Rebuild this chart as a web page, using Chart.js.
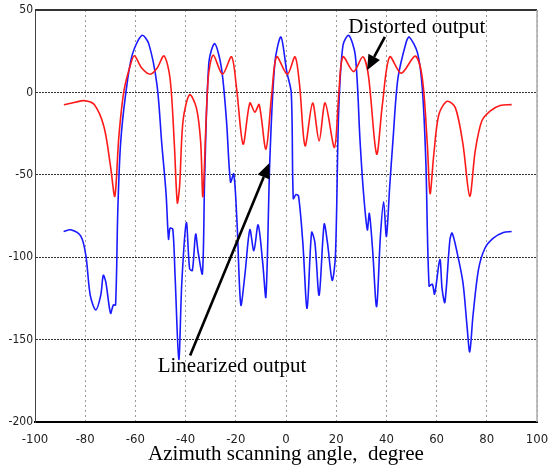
<!DOCTYPE html>
<html>
<head>
<meta charset="utf-8">
<script src="https://cdn.jsdelivr.net/npm/chart.js@4"></script>
<style>
html,body{margin:0;padding:0;background:#fff;}
#wrap{width:550px;height:470px;}
</style>
</head>
<body>
<div id="wrap"><canvas id="c" width="550" height="470"></canvas></div>
<script>
// ---- data ----
const xTicks = [-100,-80,-60,-40,-20,0,20,40,60,80,100];
const yTicks = [-200,-150,-100,-50,0,50];

const distortedX = [-88.5,-84,-80.4,-76.4,-72.5,-69.9,-68.2,-66.6,-64.6,-62,-60.4,-57.4,-54.1,-51.4,-48.6,-46.2,-44.5,-43.3,-42.4,-41,-38.4,-35.7,-34,-33.1,-31,-29,-25.3,-21.7,-19.7,-17.1,-14.4,-12.4,-10.7,-8,-5.7,-3.7,0.5,3.6,5.4,7.6,10.6,13.2,15.6,19.3,21,22.7,26.9,30.6,32.8,36.1,38.4,41.3,45.9,51.5,54.3,56.3,57.4,58.9,60.9,64.2,67.5,70.5,73.2,75.4,78,81.3,85.3,89.9];
const distortedY = [-7.5,-6,-5,-7.4,-21,-45,-63,-27,0.6,16.6,22.2,14.6,11,14.6,22.2,8.6,-31,-67,-57,-17,-1.4,-9.4,-30,-63,8.6,22.6,11,21.6,2.6,-31.4,-6.4,-12,-7.4,-34.4,-1.4,21.6,11,21.6,4.6,-32.4,-6.4,-29.4,-6.4,-33.4,-1.4,21.6,12.6,21.6,10.6,-37.4,-7.4,21.6,11.6,22,8.6,-31.4,-61.4,-37.4,-13.4,-5.4,-9.4,-31.4,-63,-35.4,-17.4,-11.4,-8,-7.4];

const linearizedX = [-88.6,-85.7,-81.7,-79.7,-78,-75.8,-73.8,-72.8,-71.8,-69.9,-68.8,-67.9,-67,-65.9,-63.9,-61.3,-57.4,-54.7,-51.4,-49.5,-47.8,-46.8,-46.2,-45.1,-44.2,-42.7,-41.5,-39.7,-38.4,-37.3,-36,-35,-33.3,-32.4,-30.7,-28.4,-25.7,-23.7,-22.1,-20.8,-19.5,-18,-16.4,-14.4,-12.8,-11.1,-9.3,-8,-6.4,-4.4,-2,0.3,2.1,2.9,4,5,6.7,8.4,10.2,11.5,13.2,15.2,16.5,18.4,19.7,21,22.7,25,27.6,29.5,30.8,32.4,33.2,34.5,36.1,37.6,38.9,40,41.3,42.6,44.6,47.9,49.1,52.4,54.3,55.7,57,58.3,59.2,61.3,62.2,63.3,65.3,66.2,68.2,70.5,72.1,73.2,74.5,76.7,79.3,82.6,86.6,89.9];
const linearizedY = [-84.4,-83.4,-87.4,-99.4,-123,-132,-123,-111,-115,-134,-129,-129,-71,-31,-1.4,22.6,34.6,29.6,4.6,-31,-61,-89,-82.4,-83,-111,-162,-115,-79,-107,-108,-86,-97,-110,-51,18.6,29.6,14.6,-17.4,-54.4,-49.4,-79.4,-129,-111,-83.4,-96,-80.4,-103,-124,-39.4,18.6,33.6,12.6,-0.4,-64.4,-62,-63,-91,-131,-85,-91,-123,-80,-91,-114,-99,-11,28.6,34.6,22.6,-29.4,-59.4,-83.4,-73.4,-95.4,-130,-87.4,-66.4,-87.4,-57.4,-29.4,8.6,30.6,33.6,24,2.6,-41.4,-117.4,-116.4,-122.4,-101.4,-119.4,-127.4,-89.4,-85.4,-97.4,-115.4,-141.4,-157.4,-135.4,-107.4,-94.4,-88.4,-85,-84.4];

// annotation labels (data coordinates)
const distortedLabel = {text:'Distorted output', x:52.1, y:36.3, from:[39.4,33.7], to:[32.3,13.5]};
const linearizedLabel = {text:'Linearized output', x:-21.5, y:-169.8, from:[-38.2,-159.7], to:[-6.6,-42.9]};
const xTitle = 'Azimuth scanning angle,  degree';

const pairs = (xs, ys) => xs.map((x,i)=>({x:x, y:ys[i]}));

const serif = '"Times New Roman", "Liberation Serif", serif';
const narrow = '"Liberation Sans Narrow", "DejaVu Sans Condensed", Arial, sans-serif';

const annot = {
  id:'annot',
  afterDraw(chart){
    const ctx = chart.ctx, xs = chart.scales.x, ys = chart.scales.y, a = chart.chartArea;
    ctx.save();
    // frame: top (dark) and right (grey)
    ctx.lineWidth = 2; ctx.strokeStyle = '#333';
    ctx.beginPath(); ctx.moveTo(a.left, a.top); ctx.lineTo(a.right, a.top); ctx.stroke();
    ctx.lineWidth = 1.5; ctx.strokeStyle = '#aaa';
    ctx.beginPath(); ctx.moveTo(a.right, a.top); ctx.lineTo(a.right, a.bottom); ctx.stroke();

    const arrow = (f, t) => {
      const x1 = xs.getPixelForValue(f[0]), y1 = ys.getPixelForValue(f[1]);
      const x2 = xs.getPixelForValue(t[0]), y2 = ys.getPixelForValue(t[1]);
      const ang = Math.atan2(y2-y1, x2-x1), L = 15, W = 6.5;
      const bx = x2 - L*Math.cos(ang), by = y2 - L*Math.sin(ang);
      ctx.strokeStyle = '#000'; ctx.fillStyle = '#000'; ctx.lineWidth = 2.6;
      ctx.beginPath(); ctx.moveTo(x1,y1); ctx.lineTo(bx,by); ctx.stroke();
      ctx.beginPath();
      ctx.moveTo(x2,y2);
      ctx.lineTo(bx + W*Math.sin(ang), by - W*Math.cos(ang));
      ctx.lineTo(bx - W*Math.sin(ang), by + W*Math.cos(ang));
      ctx.closePath(); ctx.fill();
    };
    ctx.font = '21px ' + serif;
    ctx.fillStyle = '#000'; ctx.textAlign = 'center'; ctx.textBaseline = 'alphabetic';
    [distortedLabel, linearizedLabel].forEach(l => {
      ctx.fillText(l.text, xs.getPixelForValue(l.x), ys.getPixelForValue(l.y));
      arrow(l.from, l.to);
    });
    ctx.restore();
  }
};

new Chart(document.getElementById('c'), {
  type:'line',
  data:{
    datasets:[
      {label:'Distorted output', data:pairs(distortedX, distortedY), borderColor:'#ff1a1a', borderWidth:1.6, pointRadius:0, tension:0.3, fill:false},
      {label:'Linearized output', data:pairs(linearizedX, linearizedY), borderColor:'#1a1aff', borderWidth:1.6, pointRadius:0, tension:0.3, fill:false}
    ]
  },
  options:{
    responsive:false, animation:false,
    layout:{padding:{left:0,right:13,top:10,bottom:0}},
    plugins:{legend:{display:false}, tooltip:{enabled:false}},
    scales:{
      x:{
        type:'linear', min:-100, max:100,
        afterBuildTicks(s){ s.ticks = xTicks.map(v=>({value:v})); },
        afterFit(s){ s.height = 48; s.paddingLeft = 0; s.paddingRight = 0; },
        grid:{color:'#9a9a9a', lineWidth:1, drawTicks:false},
        border:{display:true, color:'#000', width:2, dash:[2,3]},
        ticks:{padding:10, font:{family:narrow, size:13}, color:'#222', maxRotation:0, autoSkip:false},
        title:{display:true, text:xTitle, font:{family:serif, size:21}, color:'#000', padding:{top:0,bottom:3}}
      },
      y:{
        type:'linear', min:-200, max:50,
        afterBuildTicks(s){ s.ticks = yTicks.map(v=>({value:v})); },
        afterFit(s){ s.width = 35; s.paddingTop = 0; s.paddingBottom = 0; },
        grid:{color:'#333', lineWidth:1, drawTicks:false},
        border:{display:true, color:'#444', width:1, dash:[2,1]},
        ticks:{padding:2, font:{family:narrow, size:12}, color:'#222'}
      }
    }
  },
  plugins:[annot]
});
</script>
</body>
</html>
